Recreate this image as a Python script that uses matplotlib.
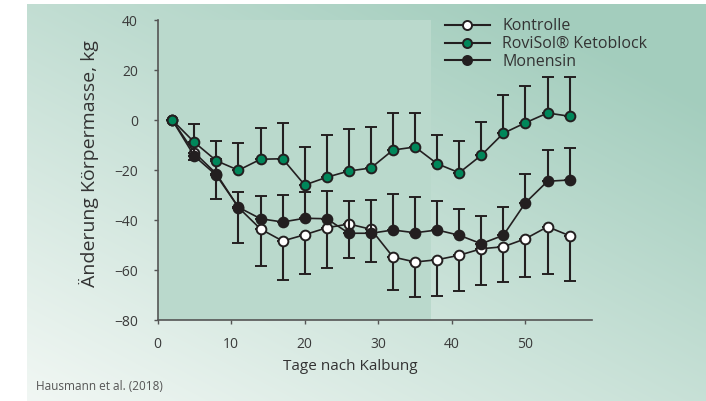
import numpy as np
import matplotlib
matplotlib.use("Agg")
import matplotlib.pyplot as plt
from matplotlib.colors import to_rgb
from matplotlib.lines import Line2D

plt.rcParams['font.family'] = ['Open Sans', 'DejaVu Sans']

# data
days = [2, 5, 8, 11, 14, 17, 20, 23, 26, 29, 32, 35, 38, 41, 44, 47, 50, 53, 56]

kontrolle = [0, -13, -21.5, -35, -43.6, -48.4, -45.9, -43.1, -41.6, -43.7,
             -54.8, -56.8, -55.9, -54.1, -51.5, -50.7, -47.5, -42.7, -46.3]
kontrolle_err = [0, 3, 10.2, 14.1, 14.7, 15.7, 15.5, 15.9, 13.7, 13.2,
                 13.1, 14, 14.4, 14.4, 14.6, 14.2, 15.3, 18.8, 18.1]

rovisol = [0, -8.9, -16.3, -20.1, -15.7, -15.5, -26, -22.9, -20.4, -19.2,
           -12, -10.8, -17.5, -21.1, -14.1, -5.3, -1.1, 2.8, 1.5]
rovisol_err = [0, 7.3, 7.9, 10.8, 12.4, 14.4, 15.3, 16.8, 16.9, 16.5,
               14.8, 13.6, 11.5, 12.6, 13.3, 15.4, 14.6, 14.4, 15.7]

monensin = [0, -14.4, -22.1, -34.9, -39.5, -40.8, -39.3, -39.5, -45.3, -45.3,
            -44, -45.1, -44, -46.1, -49.5, -46.1, -33.1, -24.5, -24]
monensin_err = [0, 5, 6.5, 6.1, 9.1, 10.8, 10.5, 11.1, 12.8, 13.3,
                14.4, 14.4, 11.7, 10.4, 11.2, 11.4, 11.5, 12.5, 12.9]

labels = ["Kontrolle", "RoviSol® Ketoblock", "Monensin"]

shade_end = 37.2
dark = "#231f20"
green = "#00875a"

W, H = 706, 401
fig = plt.figure(figsize=(W / 100, H / 100), dpi=100)

# background gradient
bg = fig.add_axes([0, 0, 1, 1], zorder=-1)
yy, xx = np.mgrid[0:H, 0:W]
t = np.clip(0.55 * xx / W + 0.6 * (1 - yy / H), 0, 1)[..., None]
c0 = np.array(to_rgb("#f3f8f5"))
c1 = np.array(to_rgb("#a3cdbd"))
img = c0 * (1 - t) + c1 * t
img[:4, :] = 1
img[:, :27] = 1
bg.imshow(img, aspect="auto", extent=[0, W, H, 0])
bg.axis("off")

ax = fig.add_axes([157.5 / W, 81 / H, 434.2 / W, 300 / H])
ax.patch.set_alpha(0)
ax.axvspan(0, shade_end, color="#bad9cc", zorder=0, lw=0)

zeros = np.zeros(len(days))
style = dict(color=dark, lw=1.2, elinewidth=1.5, capsize=4, capthick=1.5,
             marker="o", ms=7, mec=dark, mew=1.4)
ax.errorbar(days, kontrolle, yerr=[kontrolle_err, zeros], mfc="white",
            zorder=2, **style)
ax.errorbar(days, monensin, yerr=[zeros, monensin_err], mfc=dark,
            zorder=3, **style)
ax.errorbar(days, rovisol, yerr=[zeros, rovisol_err], mfc=green,
            zorder=4, **style)

ax.set_xlim(0, 59)
ax.set_ylim(-80, 40)
ax.set_xticks([0, 10, 20, 30, 40, 50])
ax.set_yticks([-80, -60, -40, -20, 0, 20, 40])
ax.set_yticklabels(["\u221280", "\u221260", "\u221240", "\u221220", "0", "20", "40"])
for s in ["top", "right"]:
    ax.spines[s].set_visible(False)
for s in ["left", "bottom"]:
    ax.spines[s].set_color("#555555")
    ax.spines[s].set_linewidth(1.2)
ax.tick_params(direction="out", length=3, width=1, color="#555555",
               labelsize=10, labelcolor="#3a3a3a")
ax.tick_params(axis="x", pad=9)
ax.tick_params(axis="y", pad=11)

ax.set_xlabel("Tage nach Kalbung", fontsize=11, color="#333333")
ax.xaxis.set_label_coords(0.443, -0.13)
ax.set_ylabel("Änderung Körpermasse, kg", fontsize=14, color="#333333")
ax.yaxis.set_label_coords(-0.135, 0.523)

handles = [Line2D([], [], color=dark, lw=1.5, marker="o", ms=6.5, mec=dark,
                  mew=1.4, mfc=fc) for fc in ["white", green, dark]]
leg = ax.legend(handles, labels,
                loc="upper left", bbox_to_anchor=(445 / W, 1 - 18.5 / H),
                bbox_transform=fig.transFigure, frameon=False, fontsize=11.5,
                borderpad=0, borderaxespad=0, handlelength=2.8,
                handletextpad=0.8, labelspacing=0.1)
for txt in leg.get_texts():
    txt.set_color("#333333")

fig.text(36 / W, 1 - 386 / H, "Hausmann et al. (2018)", fontsize=8.5,
         color="#555555", va="center", ha="left")

plt.savefig("out.png", dpi=100)
